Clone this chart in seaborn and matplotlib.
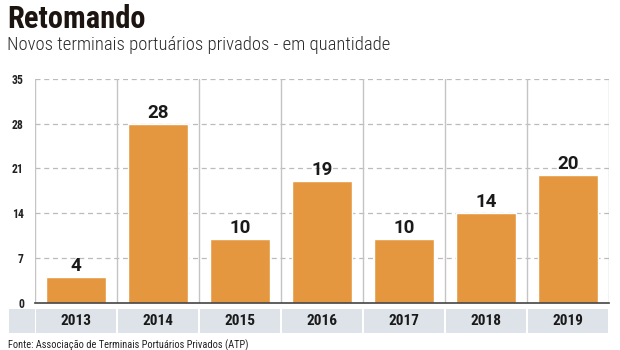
import matplotlib
matplotlib.use("Agg")
import matplotlib.pyplot as plt
import matplotlib.transforms as mtransforms
from matplotlib.patches import Rectangle
import seaborn as sns
import pandas as pd

years = ["2013", "2014", "2015", "2016", "2017", "2018", "2019"]
values = [4, 28, 10, 19, 10, 14, 20]
yticks = [0, 7, 14, 21, 28, 35]

title = "Retomando"
subtitle = "Novos terminais portuários privados - em quantidade"
source = "Fonte: Associação de Terminais Portuários Privados (ATP)"

sns.set_theme(style="white")
COND = ['Roboto Condensed', 'DejaVu Sans']
plt.rcParams['font.family'] = COND

W, H = 620, 350
fig = plt.figure(figsize=(W / 100, H / 100), dpi=100)
left, right, bottom, top = 35, 609, 302.5, 79
ax = fig.add_axes([left / W, 1 - bottom / H, (right - left) / W, (bottom - top) / H])

df = pd.DataFrame({"ano": years, "valor": values})
sns.barplot(data=df, x="ano", y="valor", color="#e5973f", saturation=1, width=0.72, ax=ax, zorder=3)

ax.set_xlim(-0.5, len(years) - 0.5)
ax.set_ylim(0, 35)
ax.set_yticks(yticks)
ax.set_yticklabels([str(t) for t in yticks], fontweight="bold", fontsize=8.5, color="#222222",
                   family=COND)
ax.tick_params(axis="y", length=0, pad=8)
ax.set_xticks([])
ax.set_xlabel("")
ax.set_ylabel("")
for s in ["top", "right", "left"]:
    ax.spines[s].set_visible(False)
ax.spines["bottom"].set_color("#444444")
ax.spines["bottom"].set_linewidth(1.2)
ax.spines["bottom"].set_zorder(5)

for t in yticks[1:]:
    ax.axhline(t, color="#bbbbbb", linestyle=(0, (4, 3)), linewidth=0.9, zorder=1)
for i in range(len(years) + 1):
    ax.axvline(i - 0.5, color="#c4c4c4", linewidth=1.0, zorder=2)

for i, v in enumerate(values):
    ax.annotate(str(v), (i, v), xytext=(0, 1.5), textcoords="offset points", ha="center", va="bottom",
                fontsize=13.5, fontweight="bold", color="#1a1a1a",
                family=['Roboto', 'DejaVu Sans'])

# category band
trans = mtransforms.blended_transform_factory(ax.transData, ax.transAxes)
y0 = (bottom - 333) / (bottom - top)
y1 = (bottom - 309) / (bottom - top)
xl = -0.5 - (left - 9) / ((right - left) / len(years))
ax.add_patch(Rectangle((xl, y0), -0.5 - xl, y1 - y0, transform=trans, facecolor="#dde3e9",
                       edgecolor="none", clip_on=False))
for i, yr in enumerate(years):
    ax.add_patch(Rectangle((i - 0.5 + 0.012, y0), 0.976, y1 - y0, transform=trans,
                           facecolor="#dde3e9", edgecolor="none", clip_on=False))
    ax.text(i, (y0 + y1) / 2, yr, transform=trans, ha="center", va="center", fontsize=11,
            fontweight="bold", color="#1a1a1a", family=COND)

fig.text(7 / W, 1 - 4 / H, title, ha="left", va="top", fontsize=22, fontweight=900,
         color="#1c1410", family=COND)
fig.text(7 / W, 1 - 36 / H, subtitle, ha="left", va="top", fontsize=13.4, fontweight=300,
         color="#2a2a2a", family=COND)
fig.text(8 / W, 1 - 339 / H, source, ha="left", va="top", fontsize=7.5, color="#222222",
         family=COND)

fig.savefig("out.png", dpi=100)
